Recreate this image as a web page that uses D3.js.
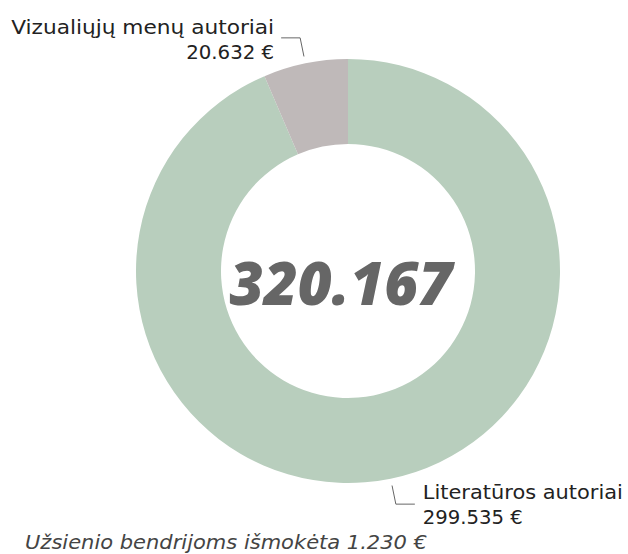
<!DOCTYPE html>
<html><head><meta charset="utf-8">
<script src="https://cdn.jsdelivr.net/npm/d3@7"></script>
<style>body{margin:0;background:#fff}svg{display:block}</style>
</head><body>
<script>
const categories = ["Literatūros autoriai", "Vizualiųjų menų autoriai"];
const values = [299535, 20632];
const valueLabels = ["299.535 €", "20.632 €"];
const colors = ["#b8cebd", "#bfb9b9"];
const totalLabel = "320.167";
const footnote = "Užsienio bendrijoms išmokėta 1.230 €";

const W = 628, H = 554, cx = 348, cy = 271, R = 212, r = 127;
const svg = d3.select("body").append("svg").attr("width", W).attr("height", H);
const g = svg.append("g").attr("transform", `translate(${cx},${cy})`);
const data = categories.map((c, i) => ({c, v: values[i], lab: valueLabels[i], col: colors[i]}));
const pie = d3.pie().value(d => d.v).sort(null);
const arc = d3.arc().innerRadius(r).outerRadius(R);
const arcs = pie(data);
g.selectAll("path.s").data(arcs).join("path").attr("class","s")
  .attr("d", arc).attr("fill", d => d.data.col);

const font = "'DejaVu Sans', sans-serif";
const widths = [[200, 100], [263, 88]];
arcs.forEach((a, i) => {
  const mid = (a.startAngle + a.endAngle) / 2;
  const p1 = [Math.sin(mid) * 219, -Math.cos(mid) * 219];
  const p2 = [Math.sin(mid) * 238, -Math.cos(mid) * 238];
  const right = Math.sin(mid) >= 0;
  const p3 = [p2[0] + (right ? 19 : -19), p2[1]];
  g.append("polyline").attr("points", [p1, p2, p3].map(p => p.join(",")).join(" "))
    .attr("fill", "none").attr("stroke", "#666").attr("stroke-width", 1);
  const tx = p3[0] + (right ? 8 : -7);
  const y1 = right ? p2[1] - 5 : p2[1] - 4;
  const t = g.append("text").attr("font-family", font).attr("font-size", 20).attr("fill", "#222")
    .attr("text-anchor", right ? "start" : "end");
  t.append("tspan").attr("x", tx).attr("y", y1).text(a.data.c)
    .attr("textLength", widths[i][0]).attr("lengthAdjust", "spacingAndGlyphs");
  t.append("tspan").attr("x", tx).attr("y", y1 + 25).text(a.data.lab)
    .attr("textLength", widths[i][1]).attr("lengthAdjust", "spacingAndGlyphs");
});

g.append("text").attr("x", -7).attr("y", 34).attr("text-anchor", "middle")
  .attr("font-family", "'Open Sans', sans-serif").attr("font-weight", 800).attr("font-style", "italic")
  .attr("font-size", 60).attr("fill", "#666").text(totalLabel)
  .attr("textLength", 223).attr("lengthAdjust", "spacingAndGlyphs");

svg.append("text").attr("x", 25).attr("y", 549).attr("font-family", font).attr("font-style", "italic")
  .attr("font-size", 19).attr("fill", "#444").text(footnote)
  .attr("textLength", 402).attr("lengthAdjust", "spacingAndGlyphs");
</script>
</body></html>
